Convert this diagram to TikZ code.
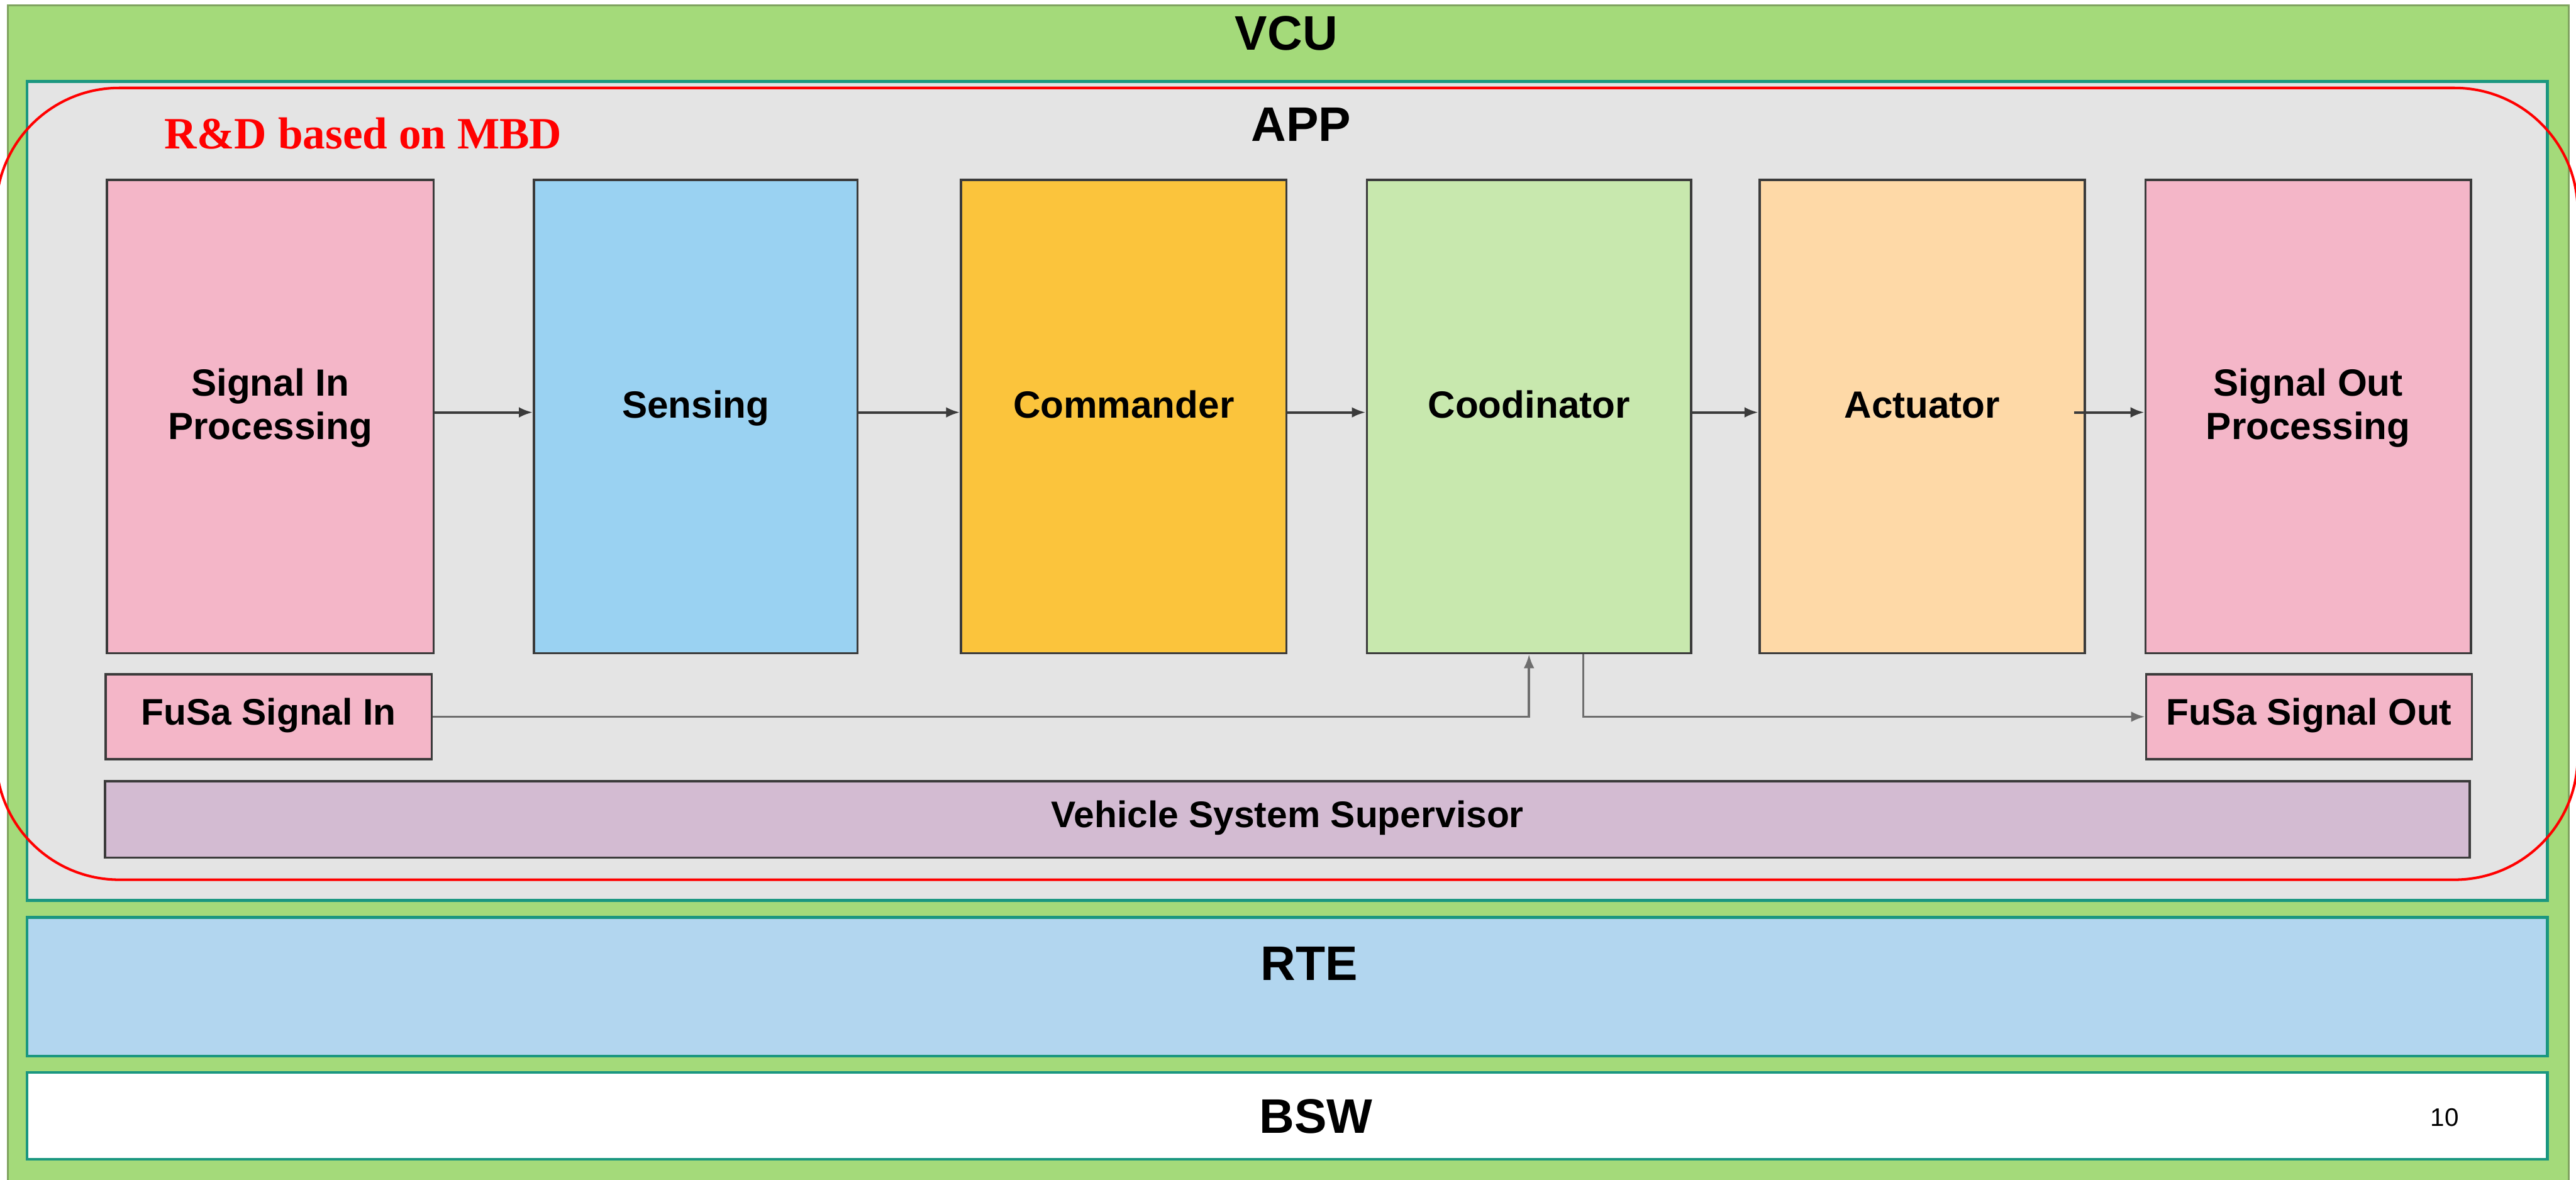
\documentclass[tikz,border=0pt]{standalone}
\usepackage{fontspec}
\setmainfont{Liberation Sans}
\newfontfamily\rdfont{Liberation Serif}
\usetikzlibrary{arrows.meta,fit}

\definecolor{vcugreen}{HTML}{A4DA7A}
\definecolor{vcuedge}{HTML}{7FA35F}
\definecolor{layeredge}{HTML}{1B9780}
\definecolor{appgrey}{HTML}{E4E4E4}
\definecolor{rteblue}{HTML}{B2D6EF}
\definecolor{sigpink}{HTML}{F4B6C8}
\definecolor{senseblue}{HTML}{9AD2F2}
\definecolor{cmdorange}{HTML}{FBC43C}
\definecolor{coordgreen}{HTML}{C8E8AE}
\definecolor{actpeach}{HTML}{FED9A7}
\definecolor{vsslilac}{HTML}{D3BBD2}
\definecolor{boxedge}{HTML}{3B3B3B}
\definecolor{wiregrey}{HTML}{6E6E6E}
\definecolor{mbdred}{HTML}{FF0000}

\begin{document}
\begin{tikzpicture}[x=0.025cm, y=-0.025cm,
  container/.style={draw=layeredge, line width=1.2pt, inner sep=0pt},
  block/.style={draw=boxedge, line width=1pt, inner sep=0pt},
  titletext/.style={font=\bfseries\fontsize{21}{25}\selectfont, anchor=base, inner sep=0pt},
  blocktext/.style={font=\bfseries\fontsize{16.4}{19}\selectfont, anchor=base, inner sep=0pt},
  smalltext/.style={font=\bfseries\fontsize{16}{19}\selectfont, anchor=base, inner sep=0pt},
  flow/.style={draw=boxedge, line width=1.1pt, -{Latex[length=6pt,width=4.6pt]}},
  wire/.style={draw=wiregrey, line width=1pt, -{Latex[length=6pt,width=4.6pt]}},
]
\useasboundingbox (0,0) rectangle (1568,718);
\clip (0,0) rectangle (1568,718);
\fill[white] (0,0) rectangle (1568,718);

% vehicle control unit frame
\node[fit={(4.8,3.3) (1563.6,730)}, inner sep=0pt, draw=vcuedge, fill=vcugreen, line width=0.8pt] (vcu) {};
\node[titletext] (vcutitle) at (783,30.6) {VCU};

% software layers
\node[container, fill=appgrey, fit={(16.5,49.5) (1550.5,548)}] (app) {};
\node[container, fill=rteblue, fit={(16.5,558.4) (1550.5,642.7)}] (rte) {};
\node[container, fill=white, fit={(16.5,652.8) (1550.5,705.5)}] (bsw) {};
\node[titletext] (apptitle) at (792,86) {APP};
\node[titletext] (rtetitle) at (797,596.7) {RTE};
\node[titletext] (bswtitle) at (801,689.8) {BSW};
\node[font=\fontsize{11}{13}\selectfont, anchor=base, inner sep=0pt] (pageno) at (1488,685.6) {10};

% application function blocks
\node[block, fill=sigpink,    fit={(65,109.5) (264,397.5)}]   (sip) {};
\node[block, fill=senseblue,  fit={(325,109.5) (522,397.5)}]  (sen) {};
\node[block, fill=cmdorange,  fit={(585,109.5) (783,397.5)}]  (cmd) {};
\node[block, fill=coordgreen, fit={(832,109.5) (1029.4,397.5)}] (crd) {};
\node[block, fill=actpeach,   fit={(1071,109.5) (1269,397.5)}] (act) {};
\node[block, fill=sigpink,    fit={(1306,109.5) (1504,397.5)}] (sop) {};

\node[block, fill=sigpink,  fit={(64.2,410.4) (262.8,462)}]  (fsi) {};
\node[block, fill=sigpink,  fit={(1306.3,410.4) (1504.6,462)}] (fso) {};
\node[block, fill=vsslilac, fit={(64,475.4) (1503.4,522)}]   (vss) {};

% block labels
\node[blocktext] (sipa) at (164.5,241) {Signal In};
\node[blocktext] (sipb) at (164.5,267.4) {Processing};
\node[blocktext] (senl) at (423.5,254.5) {Sensing};
\node[blocktext] (cmdl) at (684,254.5) {Commander};
\node[blocktext] (crdl) at (930.7,254.5) {Coodinator};
\node[blocktext] (actl) at (1170,254.5) {Actuator};
\node[blocktext] (sopa) at (1405,241) {Signal Out};
\node[blocktext] (sopb) at (1405,267.4) {Processing};
\node[smalltext] (fsil) at (163.5,441.3) {FuSa Signal In};
\node[smalltext] (fsol) at (1405.5,441.3) {FuSa Signal Out};
\node[smalltext] (vssl) at (783.7,503.5) {Vehicle System Supervisor};

% signal flow through the application
\draw[flow] ([yshift=1.8pt]sip.east) -- ([yshift=1.8pt]sen.west);
\draw[flow] ([yshift=1.8pt]sen.east) -- ([yshift=1.8pt]cmd.west);
\draw[flow] ([yshift=1.8pt]cmd.east) -- ([yshift=1.8pt]crd.west);
\draw[flow] ([yshift=1.8pt]crd.east) -- ([yshift=1.8pt]act.west);
\draw[flow] ([xshift=-5pt,yshift=1.8pt]act.east) -- ([yshift=1.8pt]sop.west);

% functional safety paths
\draw[wire] (fsi.east) -| (crd.south);
\draw[wire] ([xshift=0.825cm]crd.south) |- (fso.west);

% model-based design scope
\draw[mbdred, line width=1.1pt, rounded corners=1.875cm] (-2.4,53.5) rectangle (1569,535.4);
\node[font=\rdfont\bfseries\fontsize{19.4}{23}\selectfont, text=mbdred, anchor=base west, inner sep=0pt] (mbd) at (100,90.6) {R\&D based on MBD};
\end{tikzpicture}
\end{document}
